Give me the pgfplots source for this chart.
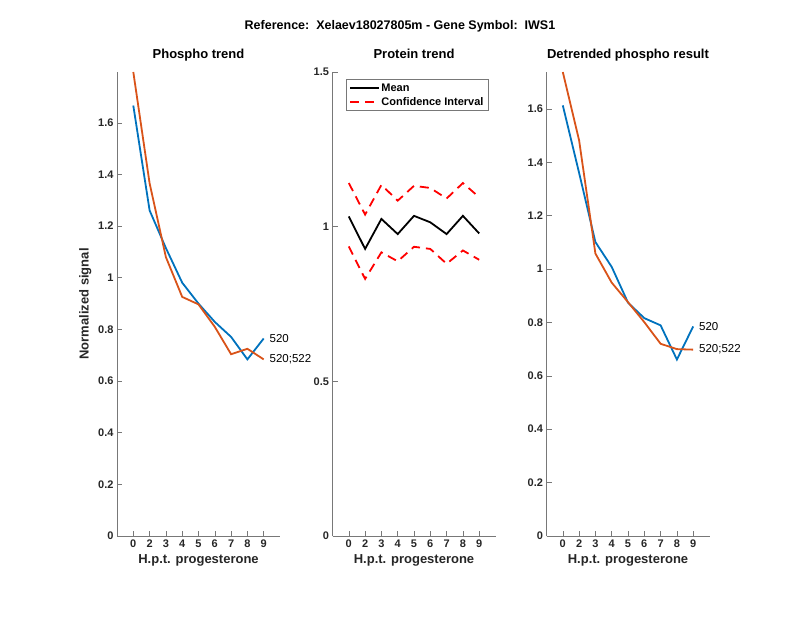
\documentclass[border=0pt]{standalone}
\usepackage{pgfplots}
\pgfplotsset{compat=1.18}
\usepackage{fontspec}
\setmainfont{Liberation Sans}

\definecolor{mblue}{RGB}{0,114,189}
\definecolor{morange}{RGB}{217,83,25}
\definecolor{axgray}{RGB}{120,120,120}

% x positions 1..9 stand for hours 0,2,3,...,9
\pgfplotstableread{
x  a      b
1  1.667  1.797
2  1.261  1.366
3  1.115  1.080
4  0.981  0.926
5  0.900  0.897
6  0.829  0.810
7  0.771  0.704
8  0.684  0.725
9  0.765  0.684
}\phospho

\pgfplotstableread{
x  mean   up     lo
1  1.033  1.141  0.936
2  0.928  1.039  0.831
3  1.025  1.135  0.917
4  0.976  1.084  0.888
5  1.035  1.132  0.935
6  1.014  1.125  0.928
7  0.976  1.091  0.880
8  1.035  1.141  0.923
9  0.978  1.095  0.893
}\protein

\pgfplotstableread{
x  a      b
1  1.613  1.738
2  1.360  1.482
3  1.101  1.058
4  1.008  0.949
5  0.874  0.876
6  0.816  0.801
7  0.789  0.720
8  0.661  0.700
9  0.785  0.698
}\detrended

\pgfplotsset{
panel/.style={
  scale only axis, width=163pt, height=464pt, anchor=south west,
  axis x line*=bottom, axis y line*=left,
  axis line style={axgray, line width=0.6pt},
  xmin=0, xmax=10, ymin=0,
  xtick={1,...,9}, xticklabels={0,2,3,4,5,6,7,8,9},
  tick align=inside, tick style={axgray, line width=0.6pt},
  major tick length=5pt,
  ticklabel style={font=\fontsize{11}{13}\selectfont\bfseries, text=black!85},
  /pgf/number format/assume math mode=true,
  xlabel={H.p.t. progesterone},
  label style={font=\fontsize{13}{15}\selectfont\bfseries, text=black!85},
  title style={font=\fontsize{13}{15}\selectfont\bfseries,
    at={(0.5,1)}, anchor=base, yshift=7pt},
  clip mode=individual,
},
dline/.style={line width=1.8pt, no marks},
}

\begin{document}
\begin{tikzpicture}
\path[use as bounding box] (0,0) rectangle (800pt,618pt);

\node[font=\fontsize{12.5}{14}\selectfont\bfseries] at (400pt,592pt)
  {Reference:\ \ Xelaev18027805m - Gene Symbol:\ \ IWS1};

\begin{axis}[panel, at={(117pt,82pt)}, ymax=1.797,
  ytick={0,0.2,...,1.6}, title={Phospho trend},
  ylabel={Normalized signal}]
\addplot[dline, mblue] table[x=x, y=a] {\phospho};
\addplot[dline, morange] table[x=x, y=b] {\phospho};
\node[anchor=west, font=\fontsize{11.5}{13}\selectfont] at (axis cs:9.15,0.766) {520};
\node[anchor=west, font=\fontsize{11.5}{13}\selectfont] at (axis cs:9.15,0.685) {520;522};
\end{axis}

\begin{axis}[panel, at={(332.5pt,82pt)}, ymax=1.5,
  ytick={0,0.5,1,1.5}, title={Protein trend},
  legend image code/.code={\draw[#1] (0pt,0pt) -- (29pt,0pt);},
  legend style={at={(0.082,0.984)}, anchor=north west, draw=axgray,
    line width=0.6pt, font=\fontsize{11}{13}\selectfont\bfseries,
    inner xsep=3pt, inner ysep=2.5pt, row sep=1.5pt,
    nodes={inner sep=1.5pt}},
  legend cell align=left]
\addplot[dline, black] table[x=x, y=mean] {\protein};
\addlegendentry{Mean}
\addplot[dline, red, dash pattern=on 9pt off 6pt] table[x=x, y=up] {\protein};
\addlegendentry{Confidence Interval}
\addplot[dline, red, dash pattern=on 9pt off 6pt, forget plot] table[x=x, y=lo] {\protein};
\end{axis}

\begin{axis}[panel, at={(546.5pt,82pt)}, ymax=1.738,
  ytick={0,0.2,...,1.6}, title={Detrended phospho result}]
\addplot[dline, mblue] table[x=x, y=a] {\detrended};
\addplot[dline, morange] table[x=x, y=b] {\detrended};
\node[anchor=west, font=\fontsize{11.5}{13}\selectfont] at (axis cs:9.15,0.784) {520};
\node[anchor=west, font=\fontsize{11.5}{13}\selectfont] at (axis cs:9.15,0.700) {520;522};
\end{axis}
\end{tikzpicture}
\end{document}
